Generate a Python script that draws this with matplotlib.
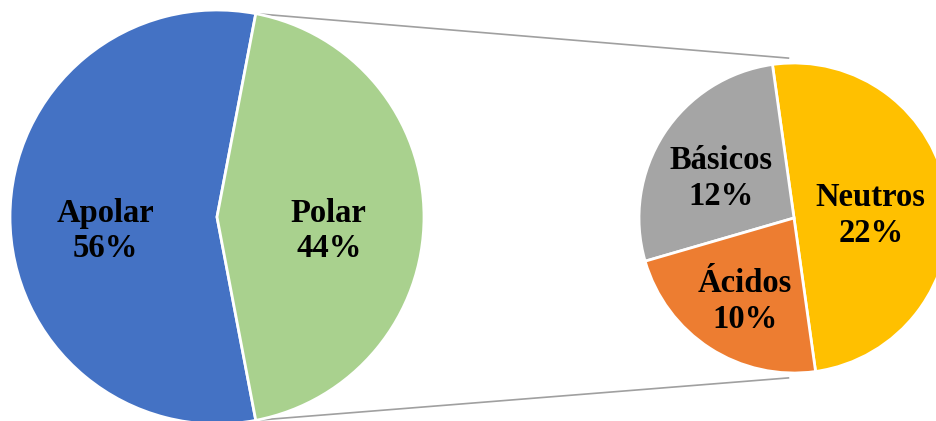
import numpy as np
import matplotlib
matplotlib.use('Agg')
import matplotlib.pyplot as plt

# main pie: amino acid side chains by polarity
main_labels = ['Apolar', 'Polar']
main_values = [56, 44]
main_colors = ['#4472C4', '#A9D18E']

# polar slice broken down
sub_labels = ['Neutros', 'Básicos', 'Ácidos']
sub_values = [22, 12, 10]
sub_colors = ['#FFC000', '#A5A5A5', '#ED7D31']

W, H = 937, 421
fig = plt.figure(figsize=(W / 100, H / 100), dpi=100)
ax = fig.add_axes([0, 0, 1, 1])

font = dict(family=['Liberation Serif', 'DejaVu Serif'], fontweight='bold',
            fontsize=23.5, color='black', ha='center', va='center')
wp = dict(edgecolor='white', linewidth=2.0)

# left pie, polar slice centred on the right side
c1, r1 = (217, H - 217), 207
start1 = 180 * main_values[1] / sum(main_values)
w1, _ = ax.pie(main_values, center=c1, radius=r1, startangle=start1,
               colors=main_colors, wedgeprops=wp)

# right pie
c2, r2 = (794, H - 218), 155
w2, _ = ax.pie(sub_values, center=c2, radius=r2, startangle=-82,
               colors=sub_colors, wedgeprops=wp)


def put_labels(wedges, labels, values, center, radius, dist, dy):
    for w, lab, val, d in zip(wedges, labels, values, dist):
        mid = np.deg2rad((w.theta1 + w.theta2) / 2)
        x = center[0] + d * radius * np.cos(mid)
        y = center[1] + d * radius * np.sin(mid) + dy
        ax.text(x, y, f'{lab}\n{val}%', linespacing=1.2, **font)


put_labels(w1, main_labels, main_values, c1, r1, [0.54, 0.54], dy=-14)
put_labels(w2, sub_labels, sub_values, c2, r2, [0.5, 0.56, 0.58], dy=-8)

# connector lines between the polar slice and the second pie
polar = w1[1]
for a1, a2 in [(polar.theta2, 92), (polar.theta1, 268)]:
    p1 = (c1[0] + r1 * np.cos(np.deg2rad(a1)), c1[1] + r1 * np.sin(np.deg2rad(a1)))
    p2 = (c2[0] + (r2 + 5) * np.cos(np.deg2rad(a2)),
          c2[1] + (r2 + 5) * np.sin(np.deg2rad(a2)))
    ax.plot([p1[0], p2[0]], [p1[1], p2[1]], color='#A0A0A0', lw=1.2, zorder=0)

ax.set_xlim(0, W)
ax.set_ylim(0, H)
ax.axis('off')

plt.savefig('out.png', dpi=100)
